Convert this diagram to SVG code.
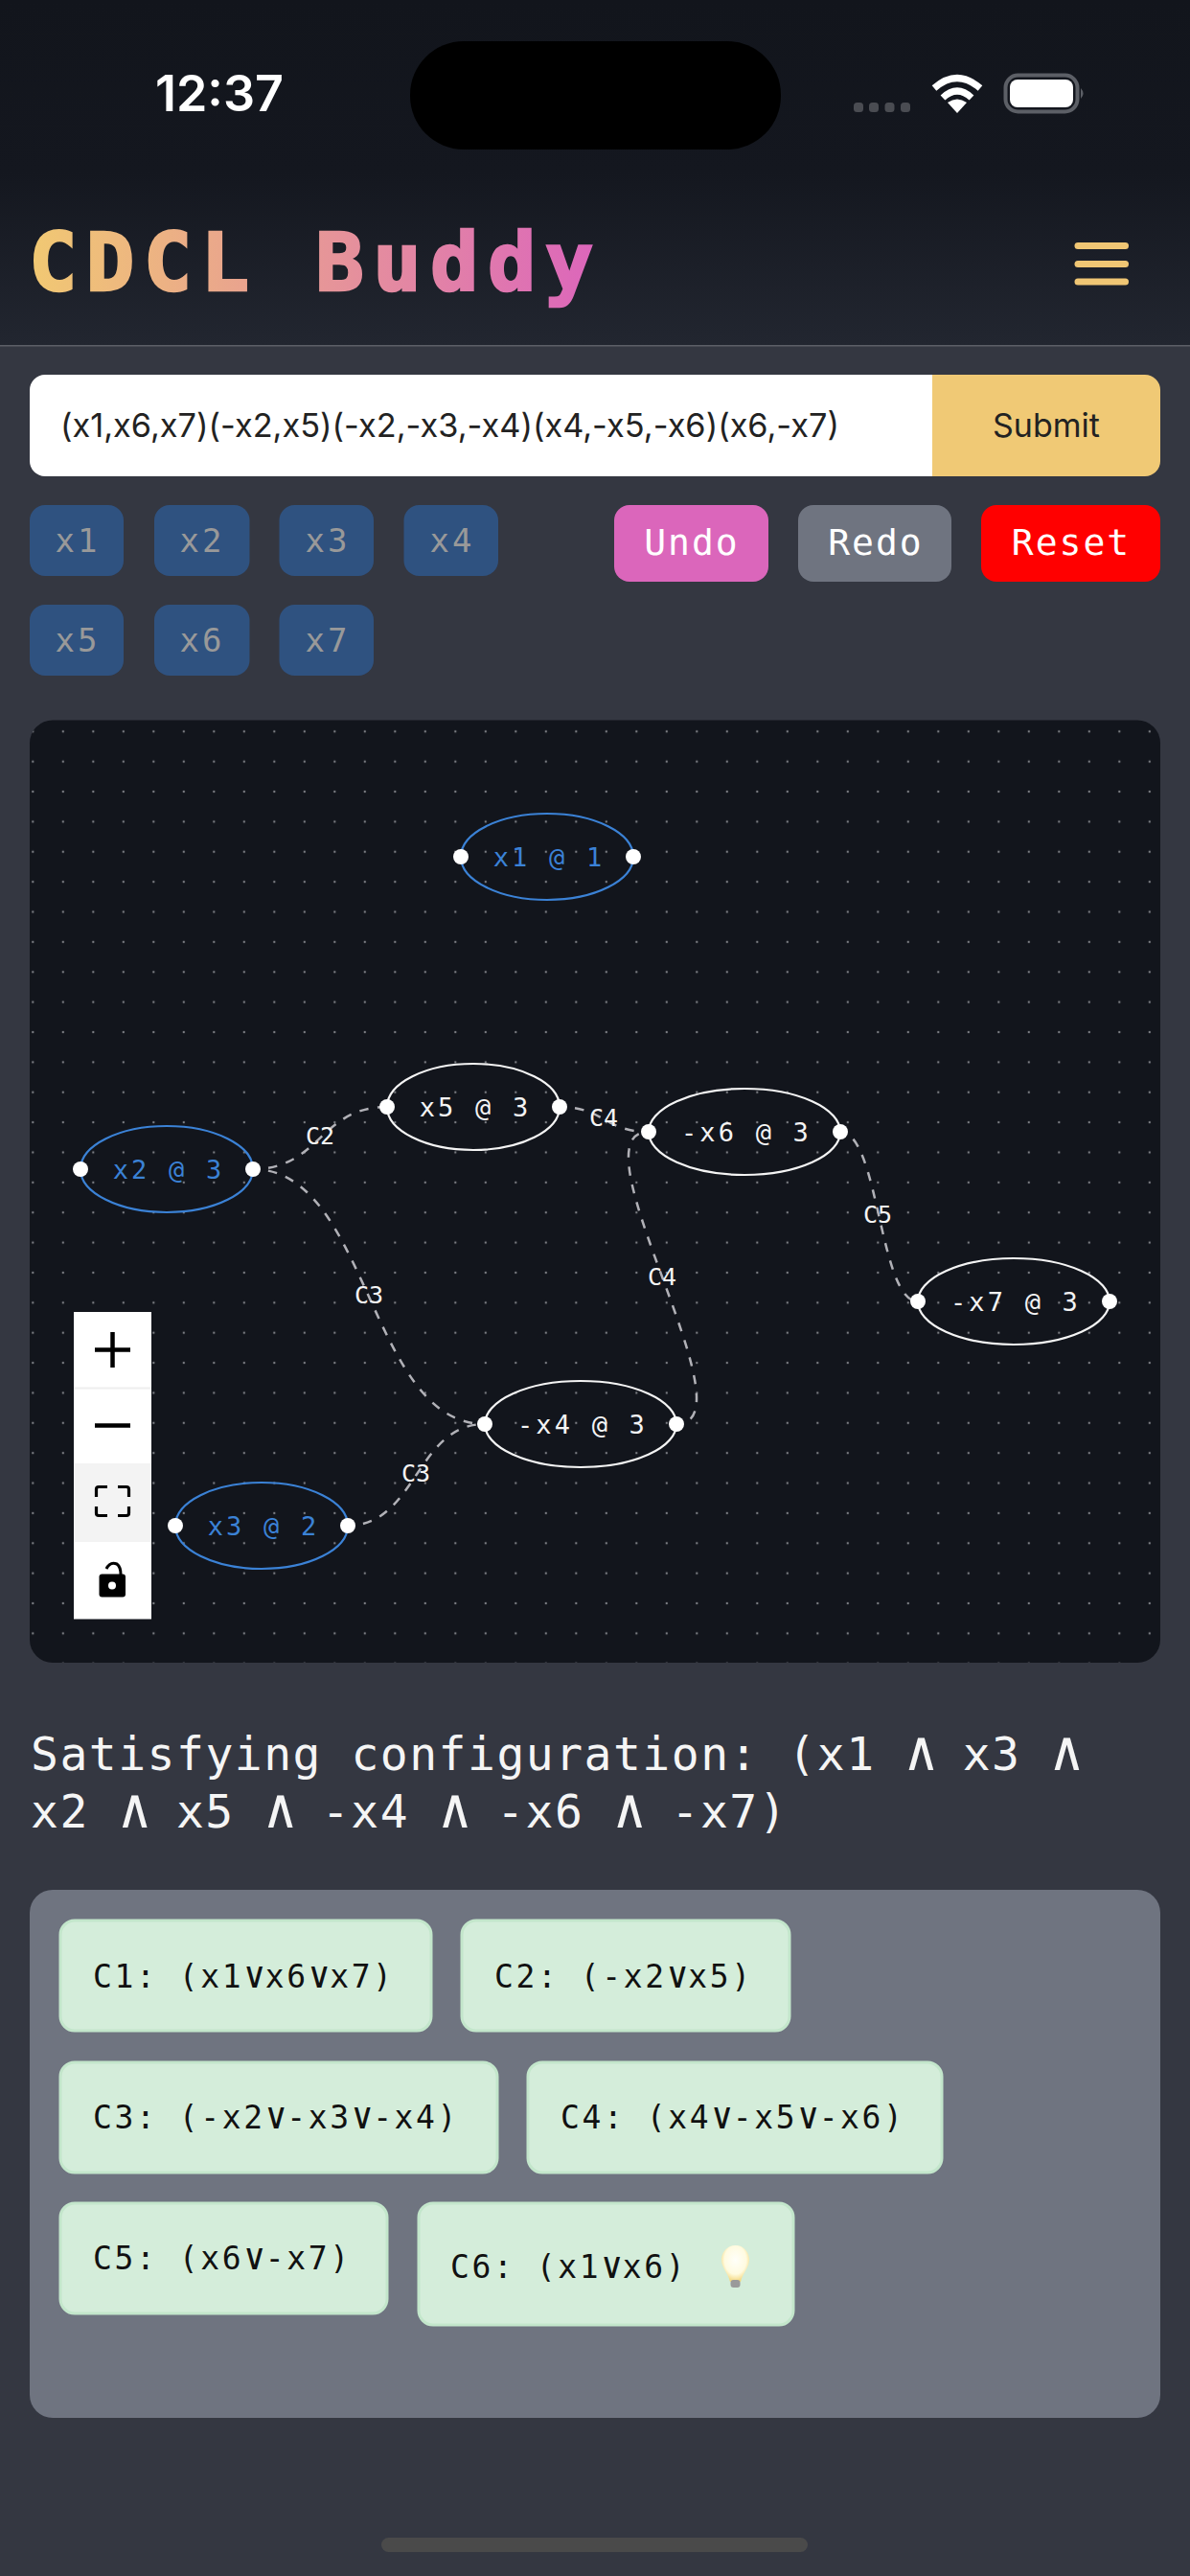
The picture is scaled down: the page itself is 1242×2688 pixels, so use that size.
<svg xmlns="http://www.w3.org/2000/svg" width="1242" height="2688" viewBox="0 0 1242 2688">
<style>
text{font-family:"DejaVu Sans Mono","Liberation Mono",monospace}
.sans{font-family:"Inter","Liberation Sans",sans-serif}
.var{fill:#2f5280}
.vt{fill:#999;font-size:34px;letter-spacing:3px;text-anchor:middle}
.act{font-size:38px;letter-spacing:2px;fill:#fff;text-anchor:middle}
.ell{fill:none;stroke-width:2.2}
.w{stroke:#f4f4f4}.b{stroke:#3b82d6}
.h{fill:#fff}
.nl{font-size:27px;letter-spacing:3.200px;text-anchor:middle;fill:#f4f4f4}
.nb{fill:#3b82d6}
.edge{fill:none;stroke:#b1b1b7;stroke-width:2.500;stroke-dasharray:9.500 9.500;stroke-dashoffset:3}
.el{font-size:25px;fill:#f4f4f4;text-anchor:middle}
.cl{fill:#d4edda;stroke:#c3e6cb;stroke-width:3}
.ct{font-size:33px;letter-spacing:2.600px;fill:#111}
.ct tspan{font-size:38px;letter-spacing:-0.400px}
.sat{font-size:48px;letter-spacing:1.500px;fill:#f5f5f5}
.sat tspan{font-size:58px;letter-spacing:-4.600px}
.ic{fill:none;stroke:#000;stroke-width:4.500}
</style>
<defs>
<linearGradient id="hdr" x1="0" y1="0" x2="0" y2="1"><stop offset="0" stop-color="#12151c"/><stop offset="0.5" stop-color="#14171f"/><stop offset="1" stop-color="#222630"/></linearGradient>
<linearGradient id="ttl" gradientUnits="userSpaceOnUse" x1="36" y1="0" x2="620" y2="0"><stop offset="0" stop-color="#f1c873"/><stop offset="1" stop-color="#dc66bb"/></linearGradient>
<pattern id="dots" patternUnits="userSpaceOnUse" x="18.55" y="747.6" width="31.5" height="31.37"><circle cx="15.75" cy="15.7" r="1.15" fill="#7d7f85"/></pattern>
<radialGradient id="bulb" cx="0.5" cy="0.4" r="0.6"><stop offset="0" stop-color="#fffffa"/><stop offset="0.65" stop-color="#fffbe0"/><stop offset="1" stop-color="#f3d67a"/></radialGradient>
</defs>
<rect width="1242" height="2688" fill="#343741"/>
<rect width="1242" height="360" fill="url(#hdr)"/>
<rect y="360" width="1242" height="1.500" fill="#5c5f67"/>
<g id="status-bar">
<text class="sans" x="229" y="116" font-size="52" font-weight="600" fill="#fff" text-anchor="middle">12:37</text>
<rect x="428" y="43" width="387" height="113" rx="56" fill="#000"/>
<g fill="#4a4c52"><rect x="891" y="107" width="10" height="10" rx="3.500"/><rect x="907" y="107" width="10" height="10" rx="3.500"/><rect x="923.500" y="107" width="10" height="10" rx="3.500"/><rect x="940" y="107" width="10" height="10" rx="3.500"/></g>
<g fill="none" stroke="#fff" stroke-width="7"><path d="M975 92 Q999 71 1023 92"/><path d="M984 102 Q999 88 1014 102"/></g>
<path d="M989 107 Q999 100 1009 107 L999 118Z" fill="#fff"/>
<rect x="1049.500" y="78.500" width="75" height="38" rx="13" fill="none" stroke="#5c5f66" stroke-width="4"/>
<rect x="1054" y="83" width="66" height="29" rx="8" fill="#fff"/>
<path d="M1128 92 Q1133 97.500 1128 103Z" fill="#5c5f66"/>
</g>
<g id="header">
<text x="30" y="303" font-size="84" font-weight="700" letter-spacing="9.300" fill="url(#ttl)" stroke="url(#ttl)" stroke-width="2.500">CDCL Buddy</text>
<g fill="#f0c674"><rect x="1121.500" y="253" width="56.500" height="7" rx="3.500"/><rect x="1121.500" y="272" width="56.500" height="7" rx="3.500"/><rect x="1121.500" y="290.500" width="56.500" height="7" rx="3.500"/></g>
</g>
<g id="input">
<path d="M973 391H47a16 16 0 0 0-16 16v74a16 16 0 0 0 16 16H973Z" fill="#fff"/>
<path d="M973 391H1195a16 16 0 0 1 16 16v74a16 16 0 0 1-16 16H973Z" fill="#f0c975"/>
<text class="sans" x="63" y="456" font-size="34.300" fill="#222">(x1,x6,x7)(-x2,x5)(-x2,-x3,-x4)(x4,-x5,-x6)(x6,-x7)</text>
<text class="sans" x="1092" y="456" font-size="34" fill="#222" text-anchor="middle">Submit</text>
</g>
<g id="vars">
<rect class="var" x="31" y="527" width="98" height="74" rx="16"/><text class="vt" x="81" y="576">x1</text>
<rect class="var" x="161" y="527" width="99.500" height="74" rx="16"/><text class="vt" x="211" y="576">x2</text>
<rect class="var" x="291.500" y="527" width="98.500" height="74" rx="16"/><text class="vt" x="342" y="576">x3</text>
<rect class="var" x="421.500" y="527" width="98.500" height="74" rx="16"/><text class="vt" x="472" y="576">x4</text>
<rect class="var" x="31" y="631" width="98" height="74" rx="16"/><text class="vt" x="81" y="680">x5</text>
<rect class="var" x="161" y="631" width="99.500" height="74" rx="16"/><text class="vt" x="211" y="680">x6</text>
<rect class="var" x="291.500" y="631" width="98.500" height="74" rx="16"/><text class="vt" x="342" y="680">x7</text>
</g>
<g id="actions">
<rect x="641" y="527" width="161" height="80" rx="16" fill="#db66bb"/><text class="act" x="722" y="579">Undo</text>
<rect x="833" y="527" width="160" height="80" rx="16" fill="#6f7480"/><text class="act" x="914" y="579">Redo</text>
<rect x="1024" y="527" width="187" height="80" rx="16" fill="#ff0000"/><text class="act" x="1118" y="579">Reset</text>
</g>
<g id="canvas">
<rect x="31" y="751.500" width="1180" height="983.500" rx="24" fill="#12151c"/>
<rect x="31" y="751.500" width="1180" height="983.500" rx="24" fill="url(#dots)"/>
</g>
<g id="connectors">
<path class="edge" d="M264 1220C334 1220 334 1155 404 1155"/>
<path class="edge" d="M264 1220C385 1220 385 1486 506 1486"/>
<path class="edge" d="M363 1592C434.500 1592 434.500 1486 506 1486"/>
<path class="edge" d="M584 1155C630.500 1155 630.500 1181 677 1181"/>
<path class="edge" d="M706 1486C789 1486 594 1181 677 1181"/>
<path class="edge" d="M877 1181C917.500 1181 917.500 1358 958 1358"/>
<text class="el" x="334" y="1194">C2</text>
<text class="el" x="385" y="1360">C3</text>
<text class="el" x="434" y="1546">C3</text>
<text class="el" x="630" y="1175">C4</text>
<text class="el" x="691" y="1341">C4</text>
<text class="el" x="916" y="1276">C5</text>
</g>
<g id="n-x1"><ellipse class="ell b" cx="571" cy="894" rx="90" ry="45"/><circle class="h" cx="481" cy="894" r="8"/><circle class="h" cx="661" cy="894" r="8"/><text class="nl nb" x="573" y="903.500">x1 @ 1</text></g>
<g id="n-x2"><ellipse class="ell b" cx="174" cy="1220" rx="90" ry="45"/><circle class="h" cx="84" cy="1220" r="8"/><circle class="h" cx="264" cy="1220" r="8"/><text class="nl nb" x="176" y="1229.500">x2 @ 3</text></g>
<g id="n-x3"><ellipse class="ell b" cx="273" cy="1592" rx="90" ry="45"/><circle class="h" cx="183" cy="1592" r="8"/><circle class="h" cx="363" cy="1592" r="8"/><text class="nl nb" x="275" y="1601.500">x3 @ 2</text></g>
<g id="n-x5"><ellipse class="ell w" cx="494" cy="1155" rx="90" ry="45"/><circle class="h" cx="404" cy="1155" r="8"/><circle class="h" cx="584" cy="1155" r="8"/><text class="nl" x="496" y="1164.500">x5 @ 3</text></g>
<g id="n-x6"><ellipse class="ell w" cx="777" cy="1181" rx="100" ry="45"/><circle class="h" cx="677" cy="1181" r="8"/><circle class="h" cx="877" cy="1181" r="8"/><text class="nl" x="779" y="1190.500">-x6 @ 3</text></g>
<g id="n-x7"><ellipse class="ell w" cx="1058" cy="1358" rx="100" ry="45"/><circle class="h" cx="958" cy="1358" r="8"/><circle class="h" cx="1158" cy="1358" r="8"/><text class="nl" x="1060" y="1367.500">-x7 @ 3</text></g>
<g id="n-x4"><ellipse class="ell w" cx="606" cy="1486" rx="100" ry="45"/><circle class="h" cx="506" cy="1486" r="8"/><circle class="h" cx="706" cy="1486" r="8"/><text class="nl" x="608" y="1495.500">-x4 @ 3</text></g>
<g id="controls">
<rect x="77" y="1369" width="81" height="320.500" fill="#fff"/>
<rect x="77" y="1447.500" width="81" height="2" fill="#eee"/>
<rect x="77" y="1527" width="81" height="82" fill="#f3f3f3"/>
<path class="ic" d="M99 1408.500H136M117.500 1390V1427M99 1487.500H136"/>
<path d="M112 1551.500H103Q100.500 1551.500 100.500 1554V1562M123 1551.500H132Q134.500 1551.500 134.500 1554V1562M100.500 1572V1579Q100.500 1581.500 103 1581.500H112M134.500 1572V1579Q134.500 1581.500 132 1581.500H123" fill="none" stroke="#000" stroke-width="3.200"/>
<rect x="103.500" y="1642.500" width="27.500" height="24" rx="3" fill="#000"/>
<circle cx="117" cy="1654.500" r="4" fill="#fff"/>
<path d="M111 1637Q115 1629 122 1632Q126 1635 126 1643" fill="none" stroke="#000" stroke-width="3"/>
</g>
<g id="satisfying">
<text class="sat" x="32" y="1847">Satisfying configuration: (x1 <tspan>∧</tspan> x3 <tspan>∧</tspan></text>
<text class="sat" x="32" y="1907">x2 <tspan>∧</tspan> x5 <tspan>∧</tspan> -x4 <tspan>∧</tspan> -x6 <tspan>∧</tspan> -x7)</text>
</g>
<g id="clauses">
<rect x="31" y="1972" width="1180" height="551" rx="24" fill="#6f7480"/>
<g id="c1"><rect class="cl" x="63" y="2004" width="387" height="115" rx="15"/><text class="ct" x="97" y="2074">C1: (x1<tspan>∨</tspan>x6<tspan>∨</tspan>x7)</text></g>
<g id="c2"><rect class="cl" x="482" y="2004" width="342" height="115" rx="15"/><text class="ct" x="516" y="2074">C2: (-x2<tspan>∨</tspan>x5)</text></g>
<g id="c3"><rect class="cl" x="63" y="2152" width="456" height="115" rx="15"/><text class="ct" x="97" y="2221">C3: (-x2<tspan>∨</tspan>-x3<tspan>∨</tspan>-x4)</text></g>
<g id="c4"><rect class="cl" x="551" y="2152" width="432" height="115" rx="15"/><text class="ct" x="585" y="2221">C4: (x4<tspan>∨</tspan>-x5<tspan>∨</tspan>-x6)</text></g>
<g id="c5"><rect class="cl" x="63" y="2299" width="341" height="115" rx="15"/><text class="ct" x="97" y="2368">C5: (x6<tspan>∨</tspan>-x7)</text></g>
<g id="c6"><rect class="cl" x="437" y="2299" width="391" height="127" rx="15"/><text class="ct" x="470" y="2377">C6: (x1<tspan>∨</tspan>x6)</text>
<path d="M767.500 2343C758 2343 753 2351 753 2358C753 2366 760 2372 762 2381H773C775 2372 782 2366 782 2358C782 2351 777 2343 767.500 2343Z" fill="url(#bulb)"/>
<rect x="762.500" y="2379" width="10" height="8" rx="3" fill="#9a9a9a"/></g>
</g>
<rect id="home" x="398" y="2648" width="445" height="15" rx="7.500" fill="#4a4a4a"/>
</svg>
